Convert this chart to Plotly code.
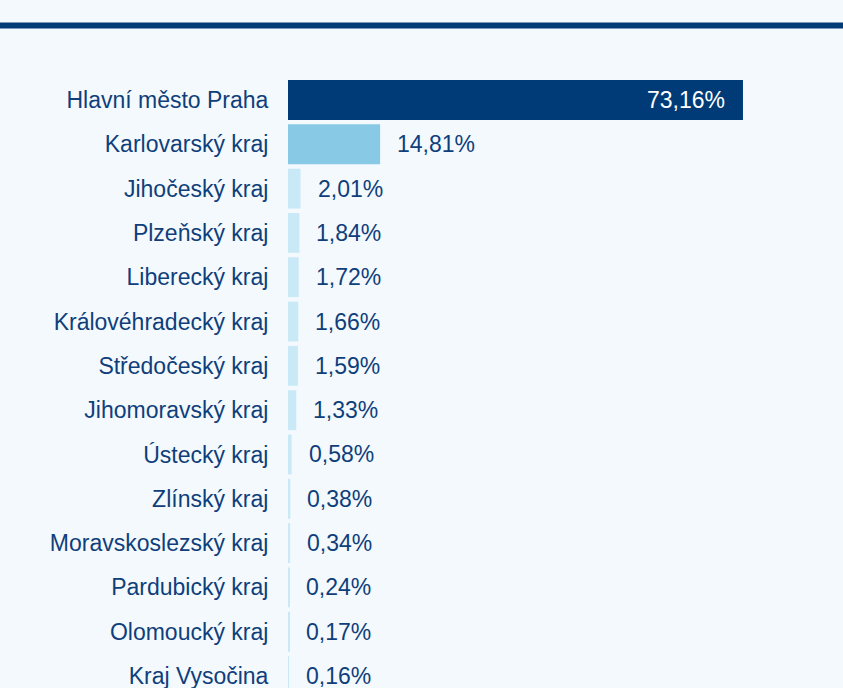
import plotly.graph_objects as go

regions = ["Hlavní město Praha", "Karlovarský kraj", "Jihočeský kraj", "Plzeňský kraj",
           "Liberecký kraj", "Královéhradecký kraj", "Středočeský kraj", "Jihomoravský kraj",
           "Ústecký kraj", "Zlínský kraj", "Moravskoslezský kraj", "Pardubický kraj",
           "Olomoucký kraj", "Kraj Vysočina"]
shares = [73.16, 14.81, 2.01, 1.84, 1.72, 1.66, 1.59, 1.33, 0.58, 0.38, 0.34, 0.24, 0.17, 0.16]

bar_colors = ["#003b78", "#88cae6"] + ["#c9e9f6"] * (len(shares) - 2)
TEXT = "#0f3f7b"
BG = "#f4f9fe"
FONT = "Liberation Sans, Arial, sans-serif"
FS = 23

ypos = list(range(len(regions)))

fig = go.Figure()
fig.add_trace(go.Bar(
    x=shares, y=ypos, orientation="h",
    marker=dict(color=bar_colors, line=dict(width=0)),
    width=0.9, hoverinfo="skip",
))

def fmt(v):
    return f"{v:.2f}".replace(".", ",") + "%"

for i, v in enumerate(shares):
    if i == 0:
        fig.add_annotation(x=v, y=i, text=fmt(v), showarrow=False, xanchor="right",
                           xshift=-16, font=dict(color="white", size=FS, family=FONT))
    else:
        fig.add_annotation(x=v, y=i, text=fmt(v), showarrow=False, xanchor="left",
                           xshift=15, font=dict(color=TEXT, size=FS, family=FONT))

# top rule
fig.add_shape(type="line", xref="paper", yref="paper", x0=-1, x1=2,
              y0=1 + 14.5 / 648, y1=1 + 14.5 / 648,
              line=dict(color="#003b78", width=6))

fig.update_layout(
    width=843, height=688,
    margin=dict(l=288, r=0, t=40, b=0, pad=0),
    paper_bgcolor=BG, plot_bgcolor=BG,
    showlegend=False,
    font=dict(family=FONT, size=FS, color=TEXT),
    xaxis=dict(range=[0, 555 / 6.219], visible=False, fixedrange=True),
    yaxis=dict(range=[13.27, -1.354], tickmode="array", tickvals=ypos, ticktext=regions,
               showgrid=False, zeroline=False, showline=False, ticks="outside",
               ticklabeloverflow="allow",
               ticklen=14, tickcolor="rgba(0,0,0,0)", tickfont=dict(size=FS, color=TEXT)),
)
fig.write_html("out.html", config={"displayModeBar": False},
               post_script="document.body.style.margin='0';document.body.style.background='%s';" % BG)
